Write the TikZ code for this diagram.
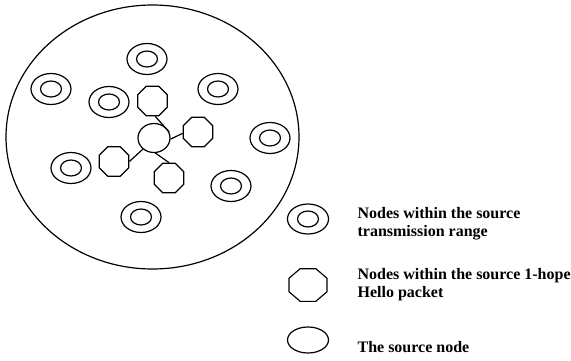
\documentclass[tikz,border=0pt]{standalone}
\usepackage{fontspec}
\setmainfont{Liberation Serif}
\usetikzlibrary{shapes.geometric}
\tikzset{
	ring/.style={ellipse, draw, minimum width=40pt, minimum height=31pt, inner sep=0pt,
		path picture={\draw (path picture bounding box.center) ellipse [x radius=10.5pt, y radius=8pt];}},
	octa/.style={regular polygon, regular polygon sides=8, draw, minimum size=32pt, inner sep=0pt},
	srcnode/.style={ellipse, draw, minimum width=32pt, minimum height=29pt, inner sep=0pt},
	legtext/.style={anchor=base west, align=left, inner sep=0pt, font=\bfseries\fontsize{16}{18}\selectfont}
}
\begin{document}
\begin{tikzpicture}[x=1pt, y=-1pt, line width=1.2pt]
		\useasboundingbox (0,0) rectangle (571,361);
		% transmission range
		\draw (152.5,137) ellipse [x radius=146.5pt, y radius=132pt];
		% nodes in range
		\node[ring] (r1) at (147,59) {};
		\node[ring] (r2) at (51,89) {};
		\node[ring] (r3) at (109,102) {};
		\node[ring] (r4) at (218,89) {};
		\node[ring] (r5) at (270,138) {};
		\node[ring] (r6) at (71,168) {};
		\node[ring] (r7) at (231,186) {};
		\node[ring] (r8) at (141,217) {};
		% source and its 1-hop neighbours
		\node[srcnode] (src) at (154,138) {};
		\node[octa] (oTop) at (152.5,101) {};
		\node[octa] (oRight) at (198,132) {};
		\node[octa] (oLeft) at (114,161.5) {};
		\node[octa] (oBot) at (169,178) {};
		\draw (oTop.-80)--(src.22);
		\draw (src.-4)--(oRight.185);
		\draw (src.225)--(oLeft.east);
		\draw (src.-85)--(oBot.north);
		% legend
		\node[ring, minimum width=41pt, minimum height=30pt] (lRing) at (308,219) {};
		\begin{scope}[shift={(308,285)}, xscale=1.08, yscale=0.93]
		\node[octa, minimum size=38pt, line width=1.15pt, transform shape] (lOcta) at (0,0) {};
		\end{scope}
		\node[srcnode, minimum width=41pt, minimum height=26pt] (lSrc) at (308,340) {};
		\node[legtext] (tRing) at (357,236) {Nodes within the source\\transmission range};
		\node[legtext] (tOcta) at (357,297) {Nodes within the source 1-hope\\Hello packet};
		\node[legtext] (tSrc) at (357,352) {The source node};
\end{tikzpicture}
\end{document}
